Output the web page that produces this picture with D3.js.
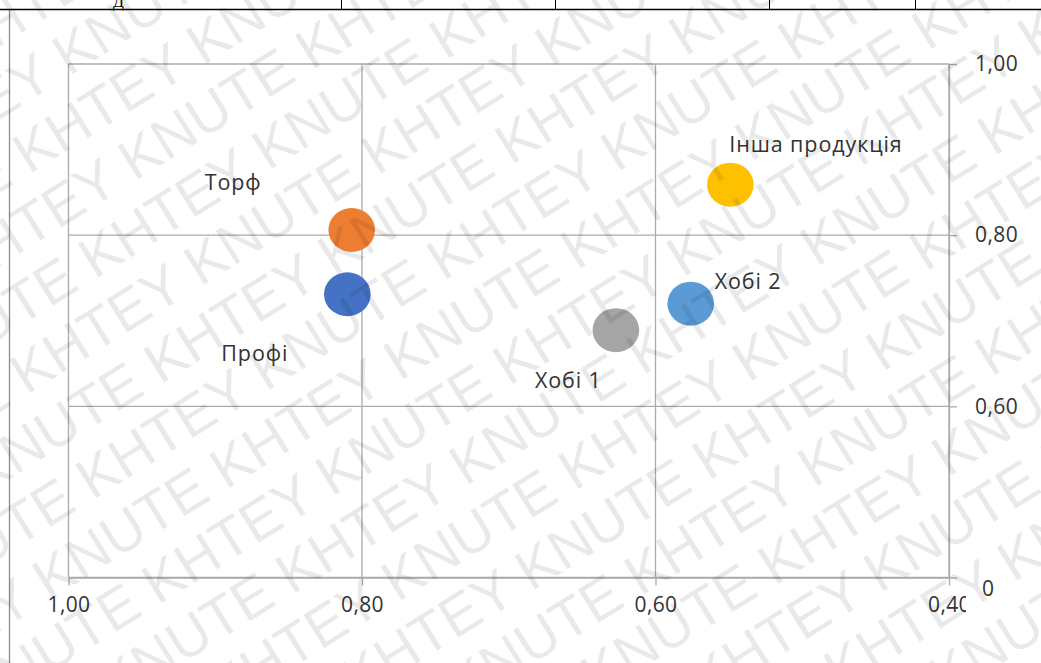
<!DOCTYPE html>
<html lang="uk">
<head>
<meta charset="utf-8">
<script src="https://cdn.jsdelivr.net/npm/d3@7"></script>
<style>
  html, body { margin: 0; padding: 0; background: #fff; }
  svg { display: block; }
</style>
</head>
<body>
<svg id="chart" width="1041" height="663"></svg>
<script>
// Product groups: relative share (x, reversed axis) vs. growth index (y)
const groups   = ["Торф", "Профі", "Хобі 1", "Хобі 2", "Інша продукція"];
const xValues  = [0.807, 0.810, 0.627, 0.576, 0.549];
const yValues  = [0.806, 0.731, 0.689, 0.720, 0.859];
const colors   = ["#ED7D31", "#4472C4", "#A5A5A5", "#5B9BD5", "#FFC000"];

const xTicks      = [1.0, 0.8, 0.6, 0.4];
const xTickLabels = ["1,00", "0,80", "0,60", "0,40"];
const yTicks      = [0.4, 0.6, 0.8, 1.0];
const yTickLabels = ["0", "0,60", "0,80", "1,00"];

// label placement relative to each bubble centre (text start, baseline)
const labelOffsets = [[-147, -40], [-126, 67], [-81, 58], [24, -15], [-1, -33]];

const svg = d3.select("#chart");
const W = 1041, H = 663;
const plot = { left: 68.5, right: 949, top: 64, bottom: 577.5 };
const FONT = "'Open Sans', 'Noto Sans', sans-serif";

// page frame: table edge above and the margin rule on the left
svg.append("line").attr("x1", 0).attr("x2", W).attr("y1", 9.5).attr("y2", 9.5)
  .attr("stroke", "#000").attr("stroke-width", 1.6);
[341, 555, 769, 915].forEach(x => {
  svg.append("line").attr("x1", x + 0.5).attr("x2", x + 0.5).attr("y1", 0).attr("y2", 9)
    .attr("stroke", "#000").attr("stroke-width", 1);
});
svg.append("text").attr("x", 113).attr("y", 7).text("Д")
  .attr("font-family", "'Liberation Serif', serif").attr("font-size", 16).attr("fill", "#000");
svg.append("line").attr("x1", 9.5).attr("x2", 9.5).attr("y1", 10).attr("y2", H)
  .attr("stroke", "#8c8c8c").attr("stroke-width", 1.3);

const x = d3.scaleLinear().domain([1.0, 0.4]).range([plot.left, plot.right]);
const y = d3.scaleLinear().domain([0.4, 1.0]).range([plot.bottom, plot.top]);

const gridColor = "#ababab";

// gridlines
svg.append("g").selectAll("line").data(xTicks).join("line")
  .attr("x1", d => x(d)).attr("x2", d => x(d))
  .attr("y1", plot.top).attr("y2", plot.bottom)
  .attr("stroke", gridColor).attr("stroke-width", 1.3);
svg.append("g").selectAll("line").data(yTicks).join("line")
  .attr("x1", plot.left).attr("x2", plot.right)
  .attr("y1", d => y(d)).attr("y2", d => y(d))
  .attr("stroke", gridColor).attr("stroke-width", 1.3);

// clip for the bottom axis labels (last label runs off the chart area)
svg.append("clipPath").attr("id", "xclip")
  .append("rect").attr("x", 0).attr("y", 0).attr("width", 966).attr("height", H);

const xAxis = svg.append("g")
  .attr("transform", `translate(0,${plot.bottom})`)
  .attr("clip-path", "url(#xclip)")
  .call(d3.axisBottom(x).tickValues(xTicks).tickSizeInner(8).tickSizeOuter(0).tickPadding(16)
    .tickFormat((d, i) => xTickLabels[i]));

const yAxis = svg.append("g")
  .attr("transform", `translate(${plot.right},0)`)
  .call(d3.axisRight(y).tickValues(yTicks).tickSizeInner(8).tickSizeOuter(0).tickPadding(18)
    .tickFormat((d, i) => yTickLabels[i]));

[xAxis, yAxis].forEach(g => {
  g.select(".domain").attr("stroke", gridColor).attr("stroke-width", 1.3);
  g.selectAll(".tick line").attr("stroke", gridColor).attr("stroke-width", 1.3);
  g.selectAll(".tick text").attr("font-family", FONT).attr("font-size", 21)
    .attr("letter-spacing", 0.4).attr("fill", "#333");
});
xAxis.selectAll(".tick text").attr("dy", "0.5em");
// the baseline label sits a little lower and further right
yAxis.selectAll(".tick text").filter(d => d === yTicks[0])
  .attr("dx", 7).attr("dy", "0.85em");

// bubbles
const pts = groups.map((g, i) => ({ name: g, x: xValues[i], y: yValues[i], color: colors[i], off: labelOffsets[i] }));

svg.append("g").selectAll("ellipse").data(pts).join("ellipse")
  .attr("cx", d => x(d.x)).attr("cy", d => y(d.y))
  .attr("rx", 23.3).attr("ry", 22)
  .attr("fill", d => d.color);

svg.append("g").selectAll("text").data(pts).join("text")
  .attr("x", d => x(d.x) + d.off[0]).attr("y", d => y(d.y) + d.off[1])
  .attr("font-family", FONT).attr("font-size", 21.5).attr("letter-spacing", 0.9)
  .attr("fill", "#333")
  .text(d => d.name);

// diagonal watermark over the whole page
const wm = svg.append("g")
  .attr("transform", `rotate(-32 ${W / 2} ${H / 2})`)
  .attr("pointer-events", "none");
d3.range(-10, 18).forEach(r => {
  const words = r % 2 === 0 ? "KHTEY KNUTE" : "KNUTE KHTEY";
  wm.append("text")
    .attr("x", -760 + (r % 2 === 0 ? 0 : -90))
    .attr("y", r * 62)
    .attr("font-family", "'Liberation Sans', Arial, sans-serif")
    .attr("font-size", 57)
    .attr("fill", "#000").attr("fill-opacity", 0.085)
    .text(d3.range(6).map(() => words).join(" "));
});
</script>
</body>
</html>
